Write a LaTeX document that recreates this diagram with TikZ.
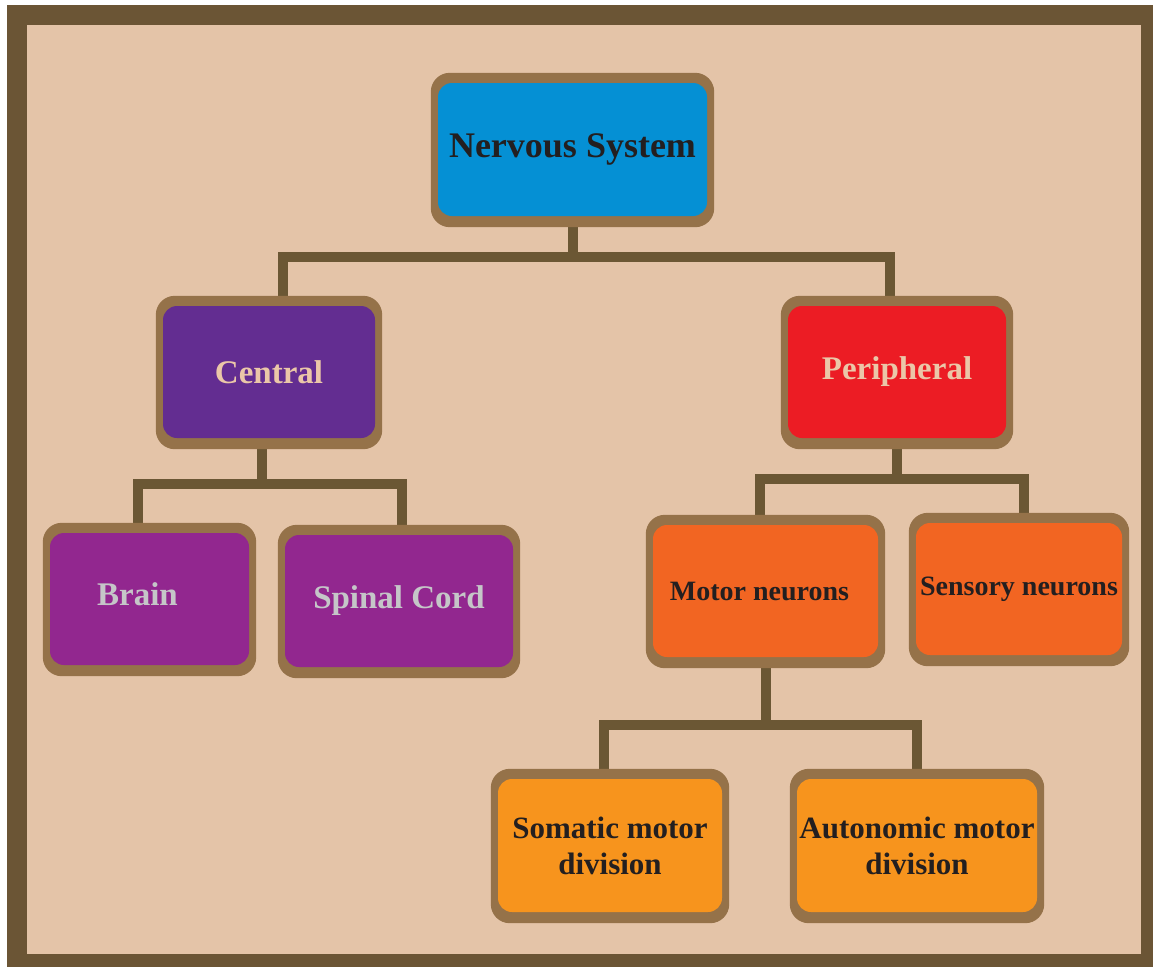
\documentclass[tikz,border=0pt]{standalone}
\usepackage{fontspec}
\setmainfont{Liberation Serif}
\usetikzlibrary{calc}
\pgfdeclarelayer{bottom}
\pgfdeclarelayer{conn}
\pgfdeclarelayer{shadow}
\pgfsetlayers{bottom,conn,shadow,main}
\definecolor{framebrown}{HTML}{6B5535}
\definecolor{beigebg}{HTML}{E4C4A8}
\definecolor{boxbrown}{HTML}{957249}
\definecolor{connbrown}{HTML}{6B5734}
\definecolor{nsblue}{HTML}{0590D4}
\definecolor{cpurple}{HTML}{632D91}
\definecolor{pred}{HTML}{EC1C24}
\definecolor{bmagenta}{HTML}{92278F}
\definecolor{morange}{HTML}{F26522}
\definecolor{sorange}{HTML}{F7941D}
\definecolor{darktext}{HTML}{231F20}
\definecolor{peachtext}{HTML}{EBC7A8}
\definecolor{greytext}{HTML}{C5C6C8}
\begin{document}
\begin{tikzpicture}[x=1pt,y=-1pt,
  box/.style={rounded corners=14pt, inner sep=0pt, align=center},
  conn/.style={draw=connbrown, line width=10pt},
  backdrop/.style={fill=boxbrown, rounded corners=19pt}]
\useasboundingbox (0,0) rectangle (1153,967);
\begin{pgfonlayer}{bottom}
  \fill[framebrown] (7,5) rectangle (1153,967);
  \fill[beigebg] (27,25) rectangle (1141,954);
\end{pgfonlayer}

\node[box, fill=nsblue, text=darktext, minimum width=269pt, minimum height=133pt,
  font=\fontsize{36}{40}\selectfont\bfseries] (ns) at (572.5,149.5) {Nervous System};
\node[box, fill=cpurple, text=peachtext, minimum width=212pt, minimum height=132pt,
  font=\fontsize{33}{38}\selectfont\bfseries] (central) at (269,372) {Central};
\node[box, fill=pred, text=peachtext, minimum width=218pt, minimum height=132pt,
  font=\fontsize{33}{38}\selectfont\bfseries] (periph) at (897,372) {Peripheral};
\node[box, fill=bmagenta, text=greytext, minimum width=199pt, minimum height=132pt,
  font=\fontsize{33}{38}\selectfont\bfseries] (brain) at (149.5,599) {\raisebox{5pt}[\height][\depth]{Brain}\kern24pt};
\node[box, fill=bmagenta, text=greytext, minimum width=228pt, minimum height=132pt,
  font=\fontsize{33}{38}\selectfont\bfseries] (spinal) at (399,601) {Spinal Cord};
\node[box, fill=morange, text=darktext, minimum width=225pt, minimum height=132pt,
  font=\fontsize{28}{32}\selectfont\bfseries] (motor) at (765.5,591) {Motor neurons\kern12pt};
\node[box, fill=morange, text=darktext, minimum width=206pt, minimum height=132pt,
  font=\fontsize{28}{32}\selectfont\bfseries] (sensory) at (1019,589) {Sensory neurons};
\node[box, fill=sorange, text=darktext, minimum width=224pt, minimum height=133pt,
  font=\fontsize{31}{36}\selectfont\bfseries] (somatic) at (610,845.5) {Somatic motor\\division};
\node[box, fill=sorange, text=darktext, minimum width=240pt, minimum height=133pt,
  font=\fontsize{31}{36}\selectfont\bfseries] (auto) at (917,845.5) {Autonomic motor\\division};

\begin{pgfonlayer}{shadow}
  \foreach \n in {ns,central,periph,brain,spinal,motor,sensory,somatic,auto}
    \fill[backdrop] ($(\n.south west)+(-7,11)$) rectangle ($(\n.north east)+(7,-10)$);
\end{pgfonlayer}

\begin{pgfonlayer}{conn}
  \draw[conn] (ns.south) -- ++(0,41) coordinate (nsbar) -| ($(central.north)+(14,0)$);
  \draw[conn] (nsbar) -| ($(periph.north)+(-7,0)$);
  \draw[conn] ($(central.south)+(-7,0)$) -- ++(0,46) coordinate (cbar) -| ($(brain.north)+(-12,0)$);
  \draw[conn] (cbar) -| ($(spinal.north)+(3,0)$);
  \draw[conn] (periph.south) -- ++(0,41) coordinate (pbar) -| ($(motor.north)+(-6,0)$);
  \draw[conn] (pbar) -| ($(sensory.north)+(5,0)$);
  \draw[conn] (motor.south) -- ++(0,68) coordinate (mbar) -| ($(somatic.north)+(-6,0)$);
  \draw[conn] (mbar) -| (auto.north);
\end{pgfonlayer}
\end{tikzpicture}
\end{document}
